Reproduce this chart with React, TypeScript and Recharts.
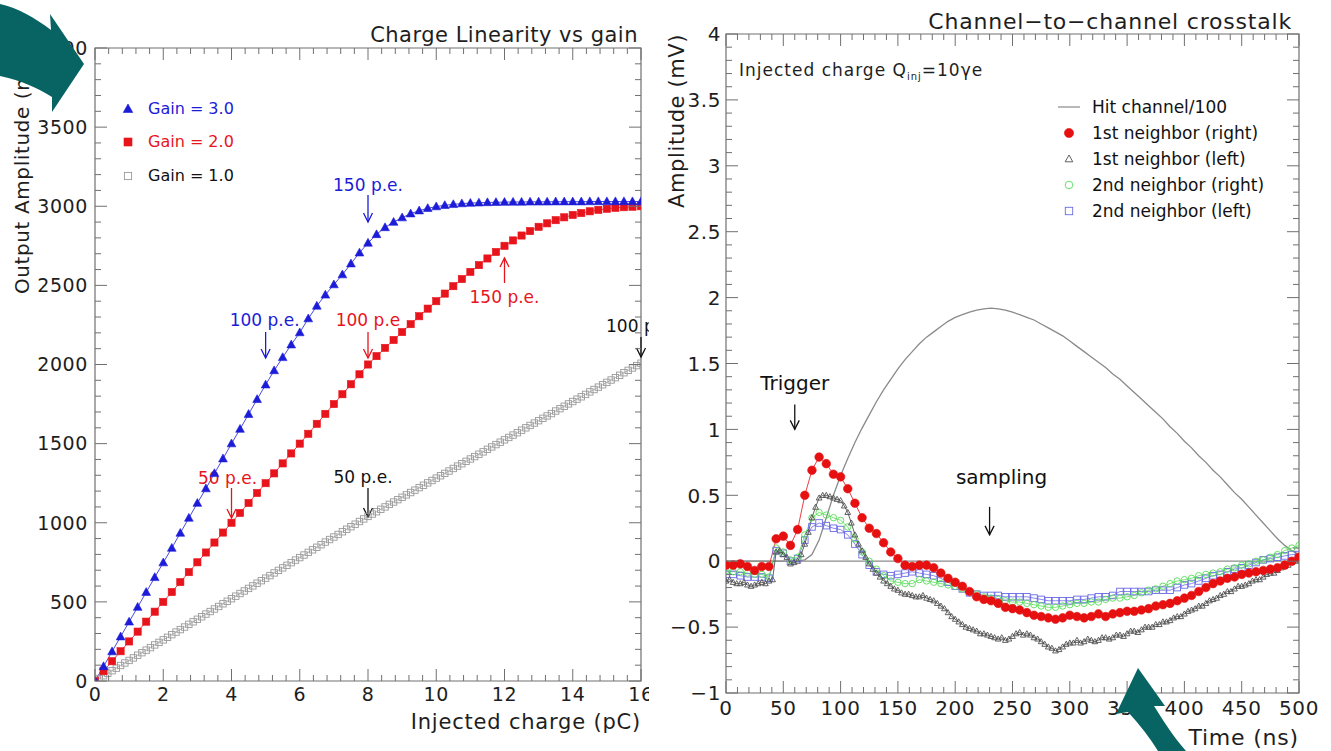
import React from 'react';
import {
  ComposedChart,
  Line,
  XAxis,
  YAxis,
  ReferenceArea,
  ReferenceLine,
  ReferenceDot,
  Legend,
  Label,
} from 'recharts';

const FONT = '"DejaVu Sans", Verdana, sans-serif';
const BLUE = '#1c1cd8';
const RED = '#e8141c';
const FRAME = '#707070';
const TEXT = '#1e1e1e';
const TEAL = '#086363';
const R_RED = '#e61010';
const R_GRAY = '#505050';
const R_GREEN = '#58dc58';
const R_BLUE = '#6a6ae6';
const HIT = '#8a8a8a';

// ---------------- Left panel: Charge Linearity vs gain ----------------
const charge = [
  0, 0.25, 0.5, 0.75, 1, 1.25, 1.5, 1.75, 2, 2.25, 2.5, 2.75, 3, 3.25, 3.5, 3.75,
  4, 4.25, 4.5, 4.75, 5, 5.25, 5.5, 5.75, 6, 6.25, 6.5, 6.75, 7, 7.25, 7.5, 7.75,
  8, 8.25, 8.5, 8.75, 9, 9.25, 9.5, 9.75, 10, 10.25, 10.5, 10.75, 11, 11.25, 11.5, 11.75,
  12, 12.25, 12.5, 12.75, 13, 13.25, 13.5, 13.75, 14, 14.25, 14.5, 14.75, 15, 15.25, 15.5, 15.75,
  16,
];
const gain3 = [
  0, 92, 186, 280, 374, 467, 561, 655, 748, 840, 935, 1030, 1124, 1216, 1312, 1405,
  1500, 1592, 1686, 1780, 1872, 1962, 2045, 2125, 2202, 2290, 2370, 2440, 2505, 2568, 2637, 2706,
  2768, 2822, 2866, 2900, 2928, 2953, 2972, 2987, 2998, 3006, 3012, 3017, 3020, 3022, 3024, 3025,
  3026, 3027, 3027, 3028, 3028, 3028, 3029, 3029, 3029, 3029, 3030, 3030, 3030, 3030, 3030, 3030,
  3030,
];
const gain2 = [
  0, 62, 125, 188, 250, 312, 375, 438, 500, 562, 625, 688, 750, 812, 875, 938,
  1000, 1062, 1125, 1188, 1250, 1312, 1375, 1438, 1500, 1562, 1625, 1688, 1750, 1812, 1875, 1938,
  2000, 2053, 2105, 2155, 2205, 2255, 2305, 2353, 2400, 2448, 2495, 2540, 2585, 2628, 2670, 2711,
  2750, 2784, 2815, 2843, 2870, 2892, 2912, 2930, 2945, 2957, 2968, 2977, 2984, 2990, 2994, 2997,
  3000,
];
const chargeFine = [
  0, 0.125, 0.25, 0.375, 0.5, 0.625, 0.75, 0.875,
  1, 1.125, 1.25, 1.375, 1.5, 1.625, 1.75, 1.875,
  2, 2.125, 2.25, 2.375, 2.5, 2.625, 2.75, 2.875,
  3, 3.125, 3.25, 3.375, 3.5, 3.625, 3.75, 3.875,
  4, 4.125, 4.25, 4.375, 4.5, 4.625, 4.75, 4.875,
  5, 5.125, 5.25, 5.375, 5.5, 5.625, 5.75, 5.875,
  6, 6.125, 6.25, 6.375, 6.5, 6.625, 6.75, 6.875,
  7, 7.125, 7.25, 7.375, 7.5, 7.625, 7.75, 7.875,
  8, 8.125, 8.25, 8.375, 8.5, 8.625, 8.75, 8.875,
  9, 9.125, 9.25, 9.375, 9.5, 9.625, 9.75, 9.875,
  10, 10.125, 10.25, 10.375, 10.5, 10.625, 10.75, 10.875,
  11, 11.125, 11.25, 11.375, 11.5, 11.625, 11.75, 11.875,
  12, 12.125, 12.25, 12.375, 12.5, 12.625, 12.75, 12.875,
  13, 13.125, 13.25, 13.375, 13.5, 13.625, 13.75, 13.875,
  14, 14.125, 14.25, 14.375, 14.5, 14.625, 14.75, 14.875,
  15, 15.125, 15.25, 15.375, 15.5, 15.625, 15.75, 15.875,
  16,
];
const gain1 = [
  0, 16, 33, 49, 65, 81, 98, 114,
  130, 146, 163, 179, 195, 211, 228, 244,
  260, 276, 293, 309, 325, 341, 358, 374,
  390, 406, 423, 439, 455, 471, 488, 504,
  520, 536, 553, 569, 585, 601, 618, 634,
  650, 666, 683, 699, 715, 731, 748, 764,
  780, 796, 813, 829, 845, 861, 878, 894,
  910, 926, 943, 959, 975, 991, 1008, 1024,
  1040, 1055, 1070, 1085, 1100, 1116, 1131, 1146,
  1161, 1176, 1191, 1206, 1222, 1237, 1252, 1267,
  1282, 1297, 1312, 1327, 1343, 1358, 1373, 1388,
  1403, 1418, 1433, 1448, 1464, 1479, 1494, 1509,
  1524, 1539, 1554, 1569, 1585, 1600, 1615, 1630,
  1645, 1660, 1675, 1690, 1706, 1721, 1736, 1751,
  1766, 1781, 1796, 1811, 1827, 1842, 1857, 1872,
  1887, 1902, 1917, 1932, 1948, 1963, 1978, 1993,
  2008,
];
const chargeTicks = [0, 2, 4, 6, 8, 10, 12, 14, 16];
const chargeTickLabels = ['0', '2', '4', '6', '8', '10', '12', '14', '16'];
const amplitudeTicks = [0, 500, 1000, 1500, 2000, 2500, 3000, 3500, 4000];
const amplitudeTickLabels = ['0', '500', '1000', '1500', '2000', '2500', '3000', '3500', '4000'];

type Note = { x: number; y: number; text: string; color: string; dir: 'up' | 'down'; len: number; gap: number; dx: number; size: number };
const leftNotes: Note[] = [
  { x: 8, y: 2900, text: '150 p.e.', color: BLUE, dir: 'down', len: 27, gap: 4, dx: 0, size: 17 },
  { x: 5, y: 2041, text: '100 p.e.', color: BLUE, dir: 'down', len: 26, gap: 6, dx: -1, size: 17 },
  { x: 8, y: 2041, text: '100 p.e', color: RED, dir: 'down', len: 26, gap: 6, dx: 0, size: 17 },
  { x: 12, y: 2673, text: '150 p.e.', color: RED, dir: 'up', len: 25, gap: 20, dx: 0, size: 17 },
  { x: 4, y: 1030, text: '50 p.e.', color: RED, dir: 'down', len: 30, gap: 4, dx: -4, size: 17 },
  { x: 8, y: 1036, text: '50 p.e.', color: '#111', dir: 'down', len: 29, gap: 5, dx: -5, size: 17 },
  { x: 16, y: 2047, text: '100 p.e.', color: '#111', dir: 'down', len: 20, gap: 5, dx: 0, size: 17 },
];

// ---------------- Right panel: Channel-to-channel crosstalk ----------------
const time = [
  0, 6.25, 12.5, 18.75, 25, 31.25, 37.5, 43.75, 50, 56.25,
  62.5, 68.75, 75, 81.25, 87.5, 93.75, 100, 106.25, 112.5, 118.75,
  125, 131.25, 137.5, 143.75, 150, 156.25, 162.5, 168.75, 175, 181.25,
  187.5, 193.75, 200, 206.25, 212.5, 218.75, 225, 231.25, 237.5, 243.75,
  250, 256.25, 262.5, 268.75, 275, 281.25, 287.5, 293.75, 300, 306.25,
  312.5, 318.75, 325, 331.25, 337.5, 343.75, 350, 356.25, 362.5, 368.75,
  375, 381.25, 387.5, 393.75, 400, 406.25, 412.5, 418.75, 425, 431.25,
  437.5, 443.75, 450, 456.25, 462.5, 468.75, 475, 481.25, 487.5, 493.75,
  500,
];
const timeFine = [
  0, 3.125, 6.25, 9.375, 12.5, 15.625, 18.75, 21.875,
  25, 28.125, 31.25, 34.375, 37.5, 40.625, 43.75, 46.875,
  50, 53.125, 56.25, 59.375, 62.5, 65.625, 68.75, 71.875,
  75, 78.125, 81.25, 84.375, 87.5, 90.625, 93.75, 96.875,
  100, 103.125, 106.25, 109.375, 112.5, 115.625, 118.75, 121.875,
  125, 128.125, 131.25, 134.375, 137.5, 140.625, 143.75, 146.875,
  150, 153.125, 156.25, 159.375, 162.5, 165.625, 168.75, 171.875,
  175, 178.125, 181.25, 184.375, 187.5, 190.625, 193.75, 196.875,
  200, 203.125, 206.25, 209.375, 212.5, 215.625, 218.75, 221.875,
  225, 228.125, 231.25, 234.375, 237.5, 240.625, 243.75, 246.875,
  250, 253.125, 256.25, 259.375, 262.5, 265.625, 268.75, 271.875,
  275, 278.125, 281.25, 284.375, 287.5, 290.625, 293.75, 296.875,
  300, 303.125, 306.25, 309.375, 312.5, 315.625, 318.75, 321.875,
  325, 328.125, 331.25, 334.375, 337.5, 340.625, 343.75, 346.875,
  350, 353.125, 356.25, 359.375, 362.5, 365.625, 368.75, 371.875,
  375, 378.125, 381.25, 384.375, 387.5, 390.625, 393.75, 396.875,
  400, 403.125, 406.25, 409.375, 412.5, 415.625, 418.75, 421.875,
  425, 428.125, 431.25, 434.375, 437.5, 440.625, 443.75, 446.875,
  450, 453.125, 456.25, 459.375, 462.5, 465.625, 468.75, 471.875,
  475, 478.125, 481.25, 484.375, 487.5, 490.625, 493.75, 496.875,
  500,
];
const hitChannel = [
  0, 0, 0, 0, 0, 0, 0, 0, 0, 0,
  0, 0.01, 0.05, 0.16, 0.33, 0.5, 0.65, 0.78, 0.9, 1.01,
  1.11, 1.21, 1.3, 1.38, 1.46, 1.53, 1.59, 1.65, 1.7, 1.74,
  1.78, 1.82, 1.85, 1.87, 1.89, 1.905, 1.915, 1.92, 1.915, 1.905,
  1.89, 1.87, 1.85, 1.83, 1.8, 1.77, 1.74, 1.71, 1.67, 1.63,
  1.59, 1.55, 1.51, 1.47, 1.42, 1.38, 1.33, 1.28, 1.23, 1.18,
  1.13, 1.08, 1.02, 0.97, 0.91, 0.86, 0.8, 0.75, 0.69, 0.64,
  0.58, 0.52, 0.47, 0.41, 0.35, 0.29, 0.23, 0.17, 0.12, 0.08,
  0.05,
];
const neighbor1Right = [
  -0.03, -0.03, -0.02, -0.04, -0.07, -0.04, -0.04, 0.17, 0.19, 0.12,
  0.24, 0.5, 0.69, 0.79, 0.74, 0.66, 0.64, 0.55, 0.44, 0.33,
  0.25, 0.21, 0.14, 0.07, 0.02, -0.03, -0.04, -0.03, -0.03, -0.05,
  -0.09, -0.13, -0.16, -0.19, -0.23, -0.27, -0.29, -0.3, -0.32, -0.35,
  -0.36, -0.37, -0.39, -0.41, -0.42, -0.43, -0.44, -0.43, -0.41, -0.42,
  -0.43, -0.42, -0.4, -0.42, -0.4, -0.39, -0.38, -0.38, -0.37, -0.36,
  -0.34, -0.33, -0.32, -0.3, -0.28, -0.26, -0.23, -0.2, -0.17, -0.15,
  -0.13, -0.12, -0.1, -0.09, -0.08, -0.07, -0.06, -0.05, -0.03, 0.0,
  0.03,
];
// 1st neighbor (left) is sampled twice as densely (timeFine)
const neighbor1Left = [
  -0.15, -0.14, -0.16, -0.17, -0.17, -0.16, -0.18, -0.19,
  -0.18, -0.17, -0.16, -0.17, -0.15, -0.14, 0.07, 0.08,
  0.05, 0.03, -0.02, -0.01, 0.0, 0.05, 0.13, 0.22,
  0.33, 0.41, 0.48, 0.5, 0.5, 0.49, 0.48, 0.47,
  0.46, 0.42, 0.37, 0.29, 0.2, 0.13, 0.08, 0.03,
  -0.02, -0.06, -0.09, -0.12, -0.15, -0.17, -0.19, -0.21,
  -0.22, -0.24, -0.25, -0.25, -0.26, -0.27, -0.27, -0.26,
  -0.28, -0.29, -0.3, -0.32, -0.34, -0.36, -0.39, -0.42,
  -0.44, -0.46, -0.48, -0.5, -0.51, -0.52, -0.53, -0.55,
  -0.55, -0.56, -0.57, -0.58, -0.59, -0.58, -0.6, -0.59,
  -0.57, -0.55, -0.54, -0.56, -0.55, -0.56, -0.58, -0.59,
  -0.61, -0.63, -0.65, -0.66, -0.68, -0.67, -0.65, -0.63,
  -0.62, -0.62, -0.6, -0.62, -0.61, -0.59, -0.6, -0.61,
  -0.6, -0.58, -0.58, -0.59, -0.58, -0.56, -0.56, -0.57,
  -0.55, -0.53, -0.53, -0.54, -0.52, -0.5, -0.5, -0.5,
  -0.48, -0.48, -0.46, -0.46, -0.45, -0.43, -0.42, -0.42,
  -0.4, -0.38, -0.37, -0.36, -0.34, -0.34, -0.32, -0.3,
  -0.29, -0.28, -0.26, -0.25, -0.23, -0.23, -0.21, -0.19,
  -0.19, -0.18, -0.17, -0.15, -0.14, -0.14, -0.12, -0.1,
  -0.09, -0.09, -0.07, -0.05, -0.04, -0.03, -0.01, 0.0,
  0.01,
];
const neighbor2Right = [
  -0.07, -0.08, -0.08, -0.09, -0.1, -0.1, -0.12, 0.1, 0.07, 0.01,
  0.03, 0.2, 0.33, 0.37, 0.35, 0.33, 0.31, 0.26, 0.17, 0.07,
  0.0, -0.06, -0.11, -0.15, -0.16, -0.17, -0.17, -0.14, -0.15, -0.16,
  -0.17, -0.18, -0.19, -0.21, -0.23, -0.25, -0.27, -0.28, -0.29, -0.3,
  -0.31, -0.31, -0.32, -0.33, -0.34, -0.35, -0.35, -0.34, -0.33, -0.32,
  -0.32, -0.31, -0.31, -0.29, -0.28, -0.28, -0.27, -0.26, -0.24, -0.22,
  -0.21, -0.19, -0.17, -0.15, -0.14, -0.13, -0.11, -0.1, -0.09, -0.08,
  -0.06, -0.05, -0.03, -0.02, 0.0, 0.01, 0.03, 0.05, 0.08, 0.1,
  0.12,
];
const neighbor2Left = [
  -0.1, -0.1, -0.11, -0.12, -0.12, -0.12, -0.13, 0.08, 0.06, 0.0,
  0.02, 0.16, 0.26, 0.29, 0.27, 0.25, 0.24, 0.2, 0.13, 0.05,
  -0.03, -0.08, -0.1, -0.11, -0.1, -0.09, -0.08, -0.09, -0.1, -0.11,
  -0.13, -0.16, -0.19, -0.21, -0.24, -0.25, -0.26, -0.26, -0.26, -0.27,
  -0.27, -0.27, -0.27, -0.28, -0.29, -0.3, -0.3, -0.3, -0.3, -0.29,
  -0.29, -0.28, -0.27, -0.27, -0.26, -0.23, -0.23, -0.23, -0.23, -0.23,
  -0.22, -0.22, -0.22, -0.2, -0.18, -0.17, -0.15, -0.13, -0.11, -0.1,
  -0.08, -0.06, -0.05, -0.03, -0.01, 0.01, 0.02, 0.03, 0.04, 0.05,
  0.05,
];
const timeTicks = [0, 50, 100, 150, 200, 250, 300, 350, 400, 450, 500];
const timeTickLabels = ['0', '50', '100', '150', '200', '250', '300', '350', '400', '450', '500'];
const mvTicks = [-1, -0.5, 0, 0.5, 1, 1.5, 2, 2.5, 3, 3.5, 4];
const mvTickLabels = ['\u22121', '\u22120.5', '0', '0.5', '1', '1.5', '2', '2.5', '3', '3.5', '4'];

const rightNotes: Note[] = [
  { x: 60, y: 1.0, text: 'Trigger', color: '#111', dir: 'down', len: 25, gap: 14, dx: 0, size: 20 },
  { x: 230, y: 0.2, text: 'sampling', color: '#111', dir: 'down', len: 28, gap: 23, dx: 12, size: 20 },
];

// ---------------- layout ----------------
const LEFT = { w: 649, h: 751, top: 48, right: 8, axisW: 95, axisH: 70 };
const RIGHT = { x: 655, w: 676, h: 751, top: 34, right: 32, axisW: 71, axisH: 58 };

// ---------------- helpers ----------------
function withMinor(majors: number[], sub: number): number[] {
  const out: number[] = [];
  for (let i = 0; i < majors.length - 1; i++) {
    const a = majors[i];
    const b = majors[i + 1];
    for (let k = 0; k < sub; k++) out.push(+(a + ((b - a) * k) / sub).toFixed(6));
  }
  out.push(majors[majors.length - 1]);
  return out;
}
const majorIndex = (majors: number[], v: number) => majors.findIndex((m) => Math.abs(m - v) < 1e-6);

type TickCfg = { majors: number[]; labels: string[]; far: number; maj: number; min: number; size: number; offset: number; spacing: number };

const makeXTick = (c: TickCfg) => (props: any) => {
  const { x, y, payload, index } = props;
  const mi = majorIndex(c.majors, payload.value);
  const len = mi >= 0 ? c.maj : c.min;
  return (
    <g key={`xt-${index}`}>
      <line x1={x} x2={x} y1={y} y2={y - len} stroke={FRAME} strokeWidth={1} />
      <line x1={x} x2={x} y1={c.far} y2={c.far + len} stroke={FRAME} strokeWidth={1} />
      {mi >= 0 ? (
        <text x={x} y={y + c.offset} textAnchor="middle" fontFamily={FONT} fontSize={c.size} letterSpacing={c.spacing} fill={TEXT}>
          {c.labels[mi]}
        </text>
      ) : null}
    </g>
  );
};

const makeYTick = (c: TickCfg) => (props: any) => {
  const { x, y, payload, index } = props;
  const mi = majorIndex(c.majors, payload.value);
  const len = mi >= 0 ? c.maj : c.min;
  return (
    <g key={`yt-${index}`}>
      <line x1={x} x2={x + len} y1={y} y2={y} stroke={FRAME} strokeWidth={1} />
      <line x1={c.far} x2={c.far - len} y1={y} y2={y} stroke={FRAME} strokeWidth={1} />
      {mi >= 0 ? (
        <text x={x - c.offset} y={y + c.size * 0.36} textAnchor="end" fontFamily={FONT} fontSize={c.size} letterSpacing={c.spacing} fill={TEXT}>
          {c.labels[mi]}
        </text>
      ) : null}
    </g>
  );
};

type Marker = 'triangle' | 'square' | 'circle' | 'line';
function drawMarker(kind: Marker, cx: number, cy: number, s: number, color: string, filled: boolean, key?: string) {
  if (kind === 'triangle') {
    const pts = `${cx},${cy - s} ${cx + s * 0.95},${cy + s * 0.7} ${cx - s * 0.95},${cy + s * 0.7}`;
    return <polygon key={key} points={pts} fill={filled ? color : 'none'} stroke={color} strokeWidth={filled ? 0.6 : 0.9} />;
  }
  if (kind === 'square') {
    return <rect key={key} x={cx - s} y={cy - s} width={2 * s} height={2 * s} fill={filled ? color : 'none'} stroke={color} strokeWidth={filled ? 0.6 : 0.9} />;
  }
  if (kind === 'circle') {
    return <circle key={key} cx={cx} cy={cy} r={s} fill={filled ? color : 'none'} stroke={color} strokeWidth={filled ? 0.6 : 0.9} />;
  }
  return <line key={key} x1={cx - 11} x2={cx + 11} y1={cy} y2={cy} stroke={color} strokeWidth={1.2} />;
}

const dotRenderer = (kind: Marker, s: number, color: string, filled: boolean) => (p: any) => {
  const { cx, cy, index } = p;
  if (cx == null || cy == null || Number.isNaN(cx) || Number.isNaN(cy)) return <g key={`n-${index}`} />;
  return drawMarker(kind, cx, cy, s, color, filled, `m-${index}`);
};

const renderNote = (n: Note) => (p: any) => {
  const { cx, cy } = p;
  if (cx == null || cy == null) return <g />;
  const down = n.dir === 'down';
  const tail = down ? cy - n.len : cy + n.len;
  const wing = down ? -9 : 9;
  const ty = down ? cy - n.len - n.gap : cy + n.len + n.gap;
  return (
    <g>
      <line x1={cx} y1={tail} x2={cx} y2={cy} stroke={n.color} strokeWidth={1.3} />
      <polyline points={`${cx - 4.5},${cy + wing} ${cx},${cy} ${cx + 4.5},${cy + wing}`} fill="none" stroke={n.color} strokeWidth={1.3} />
      <text x={cx + n.dx} y={ty} textAnchor="middle" fontFamily={FONT} fontSize={n.size} fill={n.color}>
        {n.text}
      </text>
    </g>
  );
};

type SeriesCfg = { name: string; kind: Marker; color: string; filled: boolean; size: number; text: string };
const leftSeries: SeriesCfg[] = [
  { name: 'Gain = 3.0', kind: 'triangle', color: BLUE, filled: true, size: 4.6, text: BLUE },
  { name: 'Gain = 2.0', kind: 'square', color: RED, filled: true, size: 3.6, text: RED },
  { name: 'Gain = 1.0', kind: 'square', color: '#9a9a9a', filled: false, size: 3.2, text: '#111' },
];
const rightSeries: SeriesCfg[] = [
  { name: 'Hit channel/100', kind: 'line', color: HIT, filled: false, size: 0, text: '#111' },
  { name: '1st neighbor (right)', kind: 'circle', color: R_RED, filled: true, size: 4.2, text: '#111' },
  { name: '1st neighbor (left)', kind: 'triangle', color: R_GRAY, filled: false, size: 3.6, text: '#111' },
  { name: '2nd neighbor (right)', kind: 'circle', color: R_GREEN, filled: false, size: 3.4, text: '#111' },
  { name: '2nd neighbor (left)', kind: 'square', color: R_BLUE, filled: false, size: 3.3, text: '#111' },
];

const makeLegend = (cfg: SeriesCfg[], fontSize: number, rowH: number[], markerW: number, gapText: number) => (props: any) => {
  const names = (props.payload || []).map((p: any) => p.value);
  const rows = cfg.filter((s) => names.includes(s.name));
  return (
    <div style={{ fontFamily: FONT, fontSize, lineHeight: 1 }}>
      {rows.map((s, i) => (
        <div key={s.name} style={{ height: rowH[i] ?? rowH[rowH.length - 1], display: 'flex', alignItems: 'center', whiteSpace: 'nowrap' }}>
          <svg width={markerW} height={16} style={{ flex: 'none' }}>
            {drawMarker(s.kind, markerW / 2, 8, s.kind === 'line' ? 0 : s.size + 0.4, s.color, s.filled)}
          </svg>
          <span style={{ color: s.text, marginLeft: gapText }}>{s.name}</span>
        </div>
      ))}
    </div>
  );
};

const toXY = (xs: number[], ys: number[]) => xs.map((x, i) => ({ x, y: ys[i] }));

const gain3Data = toXY(charge, gain3);
const gain2Data = toXY(charge, gain2);
const gain1Data = toXY(chargeFine, gain1);
const hitData = toXY(time, hitChannel);
const n1rData = toXY(time, neighbor1Right);
const n1lData = toXY(timeFine, neighbor1Left);
const n2rData = toXY(time, neighbor2Right);
const n2lData = toXY(time, neighbor2Left);

function LeftChart() {
  const plotTop = LEFT.top;
  const plotRight = LEFT.w - LEFT.right;
  return (
    <ComposedChart width={LEFT.w} height={LEFT.h} margin={{ top: LEFT.top, right: LEFT.right, bottom: 0, left: 0 }}>
      <XAxis
        dataKey="x"
        type="number"
        domain={[0, 16]}
        allowDataOverflow
        ticks={withMinor(chargeTicks, 5)}
        interval={0}
        tickSize={0}
        tickMargin={0}
        axisLine={false}
        tickLine={false}
        height={LEFT.axisH}
        tick={makeXTick({ majors: chargeTicks, labels: chargeTickLabels, far: plotTop, maj: 12, min: 6, size: 19, offset: 20, spacing: 0.6 })}
      >
        <Label
          content={(p: any) => {
            const vb = p.viewBox || { x: 95, y: 681, width: 546, height: 70 };
            return (
              <text x={vb.x + vb.width} y={vb.y + 48} textAnchor="end" fontFamily={FONT} fontSize={21} letterSpacing={0.8} fill={TEXT}>
                Injected charge (pC)
              </text>
            );
          }}
        />
      </XAxis>
      <YAxis
        type="number"
        domain={[0, 4000]}
        allowDataOverflow
        ticks={withMinor(amplitudeTicks, 5)}
        interval={0}
        tickSize={0}
        tickMargin={0}
        axisLine={false}
        tickLine={false}
        width={LEFT.axisW}
        tick={makeYTick({ majors: amplitudeTicks, labels: amplitudeTickLabels, far: plotRight, maj: 12, min: 6, size: 19, offset: 7, spacing: 0.6 })}
      >
        <Label
          content={(p: any) => {
            const vb = p.viewBox || { x: 0, y: 48, width: 95, height: 633 };
            const x = vb.x + 29;
            const y = vb.y;
            return (
              <text x={x} y={y} transform={`rotate(-90, ${x}, ${y})`} textAnchor="end" fontFamily={FONT} fontSize={20} letterSpacing={0.6} fill={TEXT}>
                Output Amplitude (mV)
              </text>
            );
          }}
        />
      </YAxis>
      <ReferenceArea x1={0} x2={16} y1={0} y2={4000} fill="none" stroke={FRAME} strokeWidth={1.2} ifOverflow="visible" />
      <Line data={gain1Data} dataKey="y" name="Gain = 1.0" stroke="#a0a0a0" strokeWidth={0.8} dot={dotRenderer('square', 3.2, '#9a9a9a', false)} activeDot={false} isAnimationActive={false} />
      <Line data={gain2Data} dataKey="y" name="Gain = 2.0" stroke={RED} strokeWidth={0.8} dot={dotRenderer('square', 3.6, RED, true)} activeDot={false} isAnimationActive={false} />
      <Line data={gain3Data} dataKey="y" name="Gain = 3.0" stroke={BLUE} strokeWidth={0.8} dot={dotRenderer('triangle', 4.6, BLUE, true)} activeDot={false} isAnimationActive={false} />
      {leftNotes.map((n, i) => (
        <ReferenceDot key={`ln-${i}`} x={n.x} y={n.y} r={0} ifOverflow="visible" shape={renderNote(n)} />
      ))}
      <Legend
        layout="vertical"
        verticalAlign="middle"
        align="center"
        content={makeLegend(leftSeries, 16, [33.5], 20, 10)}
        wrapperStyle={{ left: 118, top: 92, width: 200, height: 110 }}
      />
    </ComposedChart>
  );
}

function RightChart() {
  const plotTop = RIGHT.top;
  const plotRight = RIGHT.w - RIGHT.right;
  return (
    <ComposedChart width={RIGHT.w} height={RIGHT.h} margin={{ top: RIGHT.top, right: RIGHT.right, bottom: 0, left: 0 }}>
      <XAxis
        dataKey="x"
        type="number"
        domain={[0, 500]}
        allowDataOverflow
        ticks={withMinor(timeTicks, 5)}
        interval={0}
        tickSize={0}
        tickMargin={0}
        axisLine={false}
        tickLine={false}
        height={RIGHT.axisH}
        tick={makeXTick({ majors: timeTicks, labels: timeTickLabels, far: plotTop, maj: 12, min: 6, size: 20, offset: 22, spacing: 0.6 })}
      >
        <Label
          content={(p: any) => {
            const vb = p.viewBox || { x: 71, y: 693, width: 573, height: 58 };
            return (
              <text x={vb.x + vb.width} y={vb.y + 52} textAnchor="end" fontFamily={FONT} fontSize={22} letterSpacing={0.8} fill={TEXT}>
                Time (ns)
              </text>
            );
          }}
        />
      </XAxis>
      <YAxis
        type="number"
        domain={[-1, 4]}
        allowDataOverflow
        ticks={withMinor(mvTicks, 5)}
        interval={0}
        tickSize={0}
        tickMargin={0}
        axisLine={false}
        tickLine={false}
        width={RIGHT.axisW}
        tick={makeYTick({ majors: mvTicks, labels: mvTickLabels, far: plotRight, maj: 12, min: 6, size: 20, offset: 5, spacing: 0.6 })}
      >
        <Label
          content={(p: any) => {
            const vb = p.viewBox || { x: 0, y: 34, width: 71, height: 659 };
            const x = vb.x + 29;
            const y = vb.y;
            return (
              <text x={x} y={y} transform={`rotate(-90, ${x}, ${y})`} textAnchor="end" fontFamily={FONT} fontSize={21} letterSpacing={0.6} fill={TEXT}>
                Amplitude (mV)
              </text>
            );
          }}
        />
      </YAxis>
      <ReferenceArea x1={0} x2={500} y1={-1} y2={4} fill="none" stroke={FRAME} strokeWidth={1.2} ifOverflow="visible" />
      <ReferenceLine y={0} stroke="#8a8a8a" strokeWidth={1.2} />
      <Line data={hitData} dataKey="y" name="Hit channel/100" stroke={HIT} strokeWidth={1.3} dot={false} activeDot={false} isAnimationActive={false} />
      <Line data={n2lData} dataKey="y" name="2nd neighbor (left)" stroke={R_BLUE} strokeWidth={0.8} dot={dotRenderer('square', 3.3, R_BLUE, false)} activeDot={false} isAnimationActive={false} />
      <Line data={n2rData} dataKey="y" name="2nd neighbor (right)" stroke={R_GREEN} strokeWidth={0.8} dot={dotRenderer('circle', 3.2, R_GREEN, false)} activeDot={false} isAnimationActive={false} />
      <Line data={n1lData} dataKey="y" name="1st neighbor (left)" stroke={R_GRAY} strokeWidth={0.9} dot={dotRenderer('triangle', 3.0, R_GRAY, false)} activeDot={false} isAnimationActive={false} />
      <Line data={n1rData} dataKey="y" name="1st neighbor (right)" stroke={R_RED} strokeWidth={0.8} dot={dotRenderer('circle', 4.3, R_RED, true)} activeDot={false} isAnimationActive={false} />
      {rightNotes.map((n, i) => (
        <ReferenceDot key={`rn-${i}`} x={n.x} y={n.y} r={0} ifOverflow="visible" shape={renderNote(n)} />
      ))}
      <Legend
        layout="vertical"
        verticalAlign="middle"
        align="center"
        content={makeLegend(rightSeries, 17, [26, 26, 26, 26, 26], 28, 9)}
        wrapperStyle={{ left: 400, top: 94, width: 260, height: 140 }}
      />
    </ComposedChart>
  );
}

export default function App() {
  return (
    <div style={{ position: 'absolute', left: 0, top: 0, width: 1331, height: 751, background: '#fff', overflow: 'hidden', fontFamily: FONT }}>
      <div style={{ position: 'absolute', left: 0, top: 0 }}>
        <LeftChart />
      </div>
      <div style={{ position: 'absolute', left: RIGHT.x, top: 0 }}>
        <RightChart />
      </div>
      <div style={{ position: 'absolute', right: 1331 - 638, top: 23, fontSize: 21, letterSpacing: 0.5, color: TEXT, whiteSpace: 'nowrap', lineHeight: 1.15 }}>
        Charge Linearity vs gain
      </div>
      <div style={{ position: 'absolute', right: 1331 - 1292, top: 9, fontSize: 22, letterSpacing: 0.8, color: TEXT, whiteSpace: 'nowrap', lineHeight: 1.15 }}>
        Channel{'\u2212'}to{'\u2212'}channel crosstalk
      </div>
      <div style={{ position: 'absolute', left: 739, top: 61, fontSize: 17, letterSpacing: 1, color: TEXT, whiteSpace: 'nowrap', lineHeight: 1.15 }}>
        Injected charge Q<span style={{ fontSize: 10, position: 'relative', top: 4 }}>inj</span>=10γe
      </div>
      <svg width={1331} height={751} style={{ position: 'absolute', left: 0, top: 0, pointerEvents: 'none' }}>
        <path d="M0,4 C18,8 35,18 51,30 L50,14 L84,64 L52,112 L52,97 C38,88 20,80 0,76 Z" fill={TEAL} />
        <path d="M1138,668 L1165,706 L1154,706 C1163,720 1172,735 1186,751 L1158,751 C1150,738 1140,725 1128,712 L1116,714 Z" fill={TEAL} />
      </svg>
    </div>
  );
}
